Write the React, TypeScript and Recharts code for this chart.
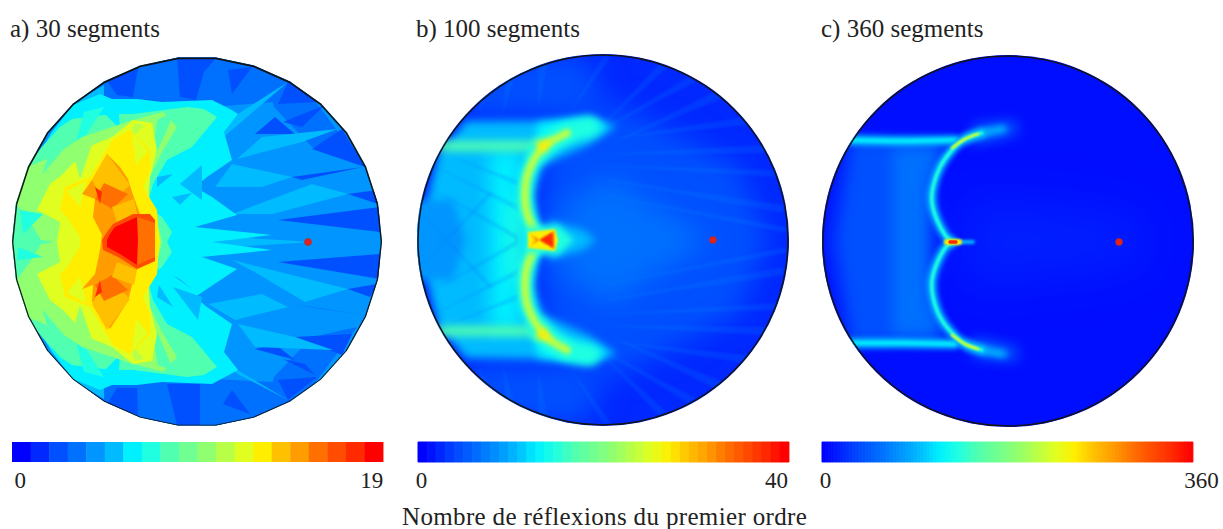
import { Bar, BarChart, Cell, Curve, ReferenceDot, Scatter, ScatterChart, XAxis, YAxis } from "recharts";

const jet = ["#0000ff", "#0028ff", "#0050ff", "#0070ff", "#0095ff", "#00bbff", "#00f0ff", "#20ffe0", "#50ffb0", "#70ff90",
  "#90ff70", "#b8ff48", "#e0ff20", "#ffee00", "#ffc000", "#ff9c00", "#ff7000", "#ff4c00", "#ff2a00", "#ff0000"];

const levelsA = Array.from({ length: 20 }, (_, i) => i);
const levelsB = Array.from({ length: 41 }, (_, i) => i);
const levelsC = Array.from({ length: 120 }, (_, i) => i);

const sourceA = [{ x: 296, y: 185 }];
const sourceB = [{ x: 295, y: 185 }];
const sourceC = [{ x: 296, y: 186 }];

// panel coordinates: 0..370 across the disc, y downwards
const outlineA = [[370, 185], [366, 147], [354, 110], [335, 76], [309, 47], [278, 25], [242, 9], [204, 1], [166, 1], [128, 9], [92, 25],
  [61, 47], [35, 76], [16, 110], [4, 147], [0, 185], [4, 223], [16, 260], [35, 294], [61, 323], [92, 345], [128, 361], [166, 369],
  [204, 369], [242, 361], [278, 345], [309, 323], [335, 294], [354, 260], [366, 223], [370, 185]];

const everywhere = [[-5, -5], [375, -5], [375, 375], [-5, 375]];

const regionsA: [number, number[][]][] = [
  [4, everywhere],
  [3, [[250, 5], [300, 40], [345, 100], [300, 90], [262, 50]]],
  [3, [[250, 365], [300, 330], [345, 270], [300, 280], [262, 320]]],
  [3, [[60, 50], [95, 22], [165, -2], [215, -2], [250, 8], [262, 45], [200, 50], [90, 42]]],
  [3, [[60, 320], [95, 348], [165, 372], [215, 372], [250, 362], [262, 325], [200, 322], [90, 328]]],
  [5, [[62, 46], [92, 28], [92, 42], [70, 55]]],
  [5, [[62, 324], [92, 342], [92, 328], [70, 315]]],
  [2, [[95, 24], [126, 11], [121, 40], [105, 38]]],
  [2, [[165, 0], [205, 0], [192, 15], [184, 43], [168, 40]]],
  [2, [[216, 13], [240, 10], [220, 37]]],
  [2, [[276, 25], [306, 45], [266, 47]]],
  [2, [[313, 48], [271, 65], [290, 70]]],
  [2, [[330, 72], [300, 92], [353, 110]]],
  [2, [[243, 77], [263, 60], [283, 77]]],
  [2, [[351, 110], [280, 120], [290, 123]]],
  [2, [[365, 133], [336, 137], [366, 147]]],
  [2, [[368, 150], [266, 163], [368, 175]]],
  [2, [[368, 197], [266, 205], [368, 222]]],
  [2, [[365, 227], [336, 232], [358, 240]]],
  [2, [[351, 258], [280, 247], [310, 252]]],
  [2, [[330, 298], [283, 280], [340, 277]]],
  [2, [[271, 302], [303, 318], [293, 307]]],
  [2, [[243, 292], [263, 287], [283, 303]]],
  [2, [[266, 323], [305, 320], [276, 343]]],
  [2, [[220, 333], [238, 357], [211, 347]]],
  [2, [[95, 347], [105, 331], [125, 331], [126, 358]]],
  [2, [[155, 327], [188, 327], [188, 368], [165, 368]]],
  [5, [[200, 90], [276, 25], [226, 57]]],
  [5, [[225, 102], [290, 85], [326, 72], [250, 80]]],
  [5, [[220, 157], [300, 127], [336, 137], [261, 157]]],
  [5, [[220, 107], [280, 120], [250, 130], [203, 130]]],
  [5, [[220, 203], [336, 232], [293, 245], [246, 217]]],
  [5, [[226, 267], [283, 280], [321, 293], [243, 290]]],
  [5, [[223, 263], [276, 250], [250, 237], [196, 247]]],
  [5, [[203, 300], [276, 343], [226, 317]]],
  [5, [[190, 178], [300, 185], [190, 192]]],
  [6, [[61, 48], [88, 37], [100, 42], [125, 42], [150, 45], [200, 43], [218, 52], [226, 57], [212, 75], [220, 103], [195, 120], [183, 130],
    [200, 140], [225, 158], [183, 170], [260, 178], [200, 185], [260, 193], [190, 200], [225, 212], [183, 240], [195, 250], [220, 267],
    [212, 295], [226, 313], [200, 327], [150, 325], [125, 328], [100, 328], [88, 333], [61, 322], [40, 295], [25, 270], [0, 240], [0, 130], [25, 100], [40, 75]]],
  [5, [[145, 120], [161, 117], [145, 130]]],
  [5, [[168, 127], [190, 108], [190, 143]]],
  [5, [[160, 140], [180, 136], [168, 148]]],
  [5, [[145, 240], [161, 250], [147, 228]]],
  [5, [[161, 230], [190, 240], [186, 263]]],
  [5, [[160, 218], [180, 232], [168, 222]]],
  [7, [[30, 90], [60, 62], [100, 57], [60, 90], [10, 140]]],
  [7, [[30, 280], [60, 308], [100, 313], [60, 280], [10, 230]]],
  [8, [[48, 70], [60, 62], [78, 60], [100, 57], [121, 57], [175, 50], [192, 52], [205, 60], [180, 90], [155, 103], [141, 127], [135, 150], [150, 160],
    [160, 175], [155, 185], [160, 195], [150, 210], [135, 220], [141, 243], [155, 267], [180, 280], [205, 310], [192, 318], [175, 320], [121, 313],
    [100, 313], [78, 310], [60, 308], [48, 300], [30, 280], [10, 255], [0, 215], [0, 155], [10, 115], [30, 90]]],
  [6, [[78, 42], [106, 42], [108, 72]]],
  [6, [[78, 328], [106, 328], [108, 298]]],
  [7, [[72, 55], [92, 50], [60, 100]]],
  [7, [[72, 315], [92, 320], [60, 270]]],
  [10, [[40, 100], [70, 80], [100, 70], [121, 63], [151, 55], [165, 70], [150, 95], [138, 120], [130, 150], [145, 165], [150, 185], [145, 205], [130, 220],
    [138, 250], [150, 275], [165, 300], [151, 315], [121, 307], [100, 300], [70, 290], [40, 270], [15, 260], [3, 225], [18, 205], [30, 185], [18, 165], [3, 145], [15, 110]]],
  [8, [[40, 88], [66, 75], [30, 118]]],
  [8, [[40, 282], [66, 295], [30, 252]]],
  [8, [[146, 62], [162, 56], [135, 118]]],
  [8, [[146, 308], [162, 314], [135, 252]]],
  [7, [[8, 153], [31, 157], [11, 177]]],
  [7, [[6, 190], [31, 200], [5, 203]]],
  [8, [[0, 178], [42, 185], [0, 192]]],
  [12, [[76, 90], [100, 80], [121, 63], [140, 66], [145, 93], [138, 120], [136, 150], [145, 160], [148, 185], [145, 210], [136, 220], [138, 250], [145, 277],
    [140, 304], [121, 307], [100, 290], [76, 280], [51, 253], [38, 243], [25, 217], [48, 205], [45, 185], [48, 165], [25, 153], [38, 127], [51, 117]]],
  [10, [[62, 100], [80, 88], [68, 122]]],
  [10, [[62, 270], [80, 282], [68, 248]]],
  [11, [[122, 66], [132, 68], [118, 84]]],
  [11, [[122, 304], [132, 302], [118, 286]]],
  [13, [[101, 82], [118, 73], [138, 93], [138, 113], [131, 130], [145, 153], [147, 185], [145, 217], [131, 240], [138, 257], [138, 277], [118, 297], [101, 288],
    [78, 250], [53, 240], [48, 217], [55, 210], [68, 190], [68, 180], [55, 160], [48, 153], [53, 130], [78, 120]]],
  [12, [[120, 76], [136, 94], [124, 108]]],
  [12, [[120, 294], [136, 276], [124, 262]]],
  [12, [[55, 134], [74, 124], [68, 150]]],
  [12, [[55, 236], [74, 246], [68, 220]]],
  [15, [[95, 97], [108, 110], [116, 122], [120, 135], [128, 157], [143, 163], [143, 204], [125, 212], [120, 228], [116, 244], [98, 272], [84, 245], [80, 245],
    [81, 228], [70, 232], [83, 217], [88, 193], [90, 178], [81, 160], [83, 142], [70, 137], [80, 123], [83, 118]]],
  [14, [[95, 97], [118, 128], [95, 150], [80, 123]]],
  [14, [[95, 273], [118, 242], [95, 220], [80, 247]]],
  [16, [[92, 126], [116, 137], [100, 152], [83, 142]]],
  [16, [[92, 244], [116, 233], [100, 218], [83, 228]]],
  [18, [[83, 130], [90, 135], [88, 147]]],
  [18, [[83, 240], [90, 235], [88, 223]]],
  [14, [[100, 150], [122, 142], [125, 157], [105, 165]]],
  [14, [[100, 220], [122, 228], [125, 213], [105, 205]]],
  [17, [[101, 167], [121, 157], [138, 157], [143, 163], [143, 204], [125, 212], [106, 200], [91, 193], [90, 183], [95, 175]]],
  [16, [[125, 160], [143, 166], [143, 200], [125, 208]]],
  [19, [[98, 177], [103, 170], [125, 160], [126, 183], [125, 208], [108, 197], [95, 190], [95, 183]]],
];

const broadB: [number, number[][]][] = [
  [2, [[130, 65], [200, 50], [320, 110], [350, 185], [320, 260], [200, 320], [130, 305], [120, 185]]],
  [3, [[135, 160], [190, 120], [270, 170], [290, 185], [270, 200], [190, 250], [135, 210], [155, 185]]],
  [2, [[50, 30], [90, 5], [165, 0], [190, 50], [160, 62], [50, 62]]],
  [2, [[50, 340], [90, 365], [165, 370], [190, 320], [160, 308], [50, 308]]],
];

const softB: [number, number[][]][] = [
  [5, [[48, 66], [170, 66], [200, 70], [170, 90], [125, 110], [115, 140], [120, 170], [150, 185], [120, 200], [115, 230], [125, 260], [170, 280], [200, 300],
    [170, 305], [48, 303], [20, 270], [0, 185], [20, 100]]],
  [4, [[-10, 145], [35, 145], [48, 185], [35, 225], [-10, 225]]],
  [6, [[120, 68], [170, 62], [192, 72], [150, 85], [125, 100], [115, 95]]],
  [6, [[120, 302], [170, 308], [192, 298], [150, 285], [125, 270], [115, 275]]],
  [5, [[130, 165], [165, 175], [178, 185], [165, 195], [130, 205]]],
];
const columnB: [number, number[][]][] = [
  [6, [[72, 95], [103, 95], [103, 275], [72, 275]]],
  [7, [[90, 150], [104, 140], [104, 230], [90, 220]]],
];

const raysB = [
  [[160, 120], [365, 150], [365, 158]], [[160, 135], [368, 172], [368, 178]], [[160, 235], [368, 192], [368, 198]], [[160, 250], [365, 212], [365, 220]],
  [[170, 100], [345, 90], [350, 98]], [[170, 270], [345, 280], [350, 272]], [[190, 90], [300, 35], [308, 42]], [[190, 280], [300, 335], [308, 328]],
  [[180, 75], [240, 10], [250, 12]], [[180, 295], [240, 360], [250, 358]], [[120, 55], [120, 8], [130, 8]], [[120, 315], [120, 362], [130, 362]],
  [[170, 110], [356, 115], [358, 122]], [[170, 260], [356, 255], [358, 248]], [[185, 85], [325, 62], [330, 70]], [[185, 285], [325, 308], [330, 300]],
  [[175, 80], [270, 22], [278, 27]], [[175, 290], [270, 348], [278, 343]], [[150, 60], [185, 2], [193, 2]], [[150, 310], [185, 368], [193, 368]],
  [[85, 60], [88, 24], [96, 22]], [[85, 310], [88, 346], [96, 348]], [[60, 62], [64, 44], [70, 40]], [[60, 308], [64, 326], [70, 330]],
];
// faint lattice on the left of the band
const latticeB = [
  [[8, 130], [100, 180], [100, 186]], [[8, 240], [100, 190], [100, 184]], [[14, 110], [100, 150], [100, 156]], [[14, 260], [100, 220], [100, 214]],
  [[30, 100], [100, 125], [100, 131]], [[30, 270], [100, 245], [100, 239]], [[5, 160], [70, 232], [76, 232]], [[5, 210], [70, 138], [76, 138]],
];

const upperBandB = [[22, 91], [60, 91], [118, 91]];
const lowerBandB = [[22, 276], [60, 276], [118, 276]];
const upperArcB = [[149, 78], [132, 87], [120, 98], [110, 118], [107, 138], [109, 158], [117, 178], [120, 185]];
const lowerArcB = [[120, 185], [117, 192], [109, 212], [107, 232], [110, 252], [120, 272], [132, 285], [149, 295]];
const upperTipB = [[172, 72], [149, 78], [132, 87], [120, 98]];
const lowerTipB = [[172, 300], [149, 295], [132, 285], [120, 272]];
const hotB: [number, number[][]][] = [
  [7, [[108, 172], [140, 170], [156, 185], [140, 200], [108, 198]]],
  [13, [[110, 177], [137, 174], [140, 185], [137, 196], [110, 193]]],
  [16, [[112, 179], [118, 185], [112, 191], [121, 185], [136, 176], [136, 194]]],
  [18, [[122, 185], [134, 178], [135, 192]]],
  [13, [[116, 87], [134, 84], [126, 99]]],
  [13, [[116, 283], [134, 286], [126, 271]]],
];

const broadC: [number, number[][]][] = [
  [1, [[140, 140], [320, 160], [320, 210], [140, 232]]],
];
const softC: [number, number[][]][] = [
  [1, [[20, 82], [125, 85], [108, 130], [125, 185], [108, 240], [125, 285], [20, 290], [0, 185]]],
  [2, [[30, 84], [122, 88], [104, 130], [104, 240], [122, 282], [30, 287], [14, 185]]],
  [3, [[70, 92], [115, 92], [104, 130], [104, 240], [115, 278], [70, 278]]],
  [3, [[150, 70], [192, 66], [196, 76], [150, 88]]],
  [3, [[150, 300], [192, 304], [196, 294], [150, 282]]],
];

const upperBandC = [[24, 84], [80, 85], [132, 84]];
const lowerBandC = [[24, 287], [80, 287], [132, 288]];
const upperArcC = [[159, 77], [142, 83], [129, 94], [117, 111], [110, 131], [109, 147], [114, 164], [122, 179], [129, 186]];
const lowerArcC = [[129, 186], [122, 192], [114, 207], [109, 224], [110, 241], [117, 261], [129, 277], [142, 288], [159, 294]];
const upperTipC = [[180, 73], [159, 77], [142, 83]];
const lowerTipC = [[180, 298], [159, 294], [142, 288]];
const upperCuspC = [[129, 92], [142, 83], [155, 78]];
const lowerCuspC = [[129, 279], [142, 288], [155, 293]];
const tailC = [[124, 186], [150, 186]];
const hotC = [[124, 186], [136, 186]];
const coreC = [[127, 186], [133, 186]];

const jetAt = (t: number) => {
  const p = t * (jet.length - 1);
  const i = Math.min(Math.floor(p), jet.length - 2);
  const f = p - i;
  const c = (h: string, o: number) => parseInt(h.slice(o, o + 2), 16);
  const mix = (o: number) => Math.round(c(jet[i], o) * (1 - f) + c(jet[i + 1], o) * f);
  return `rgb(${mix(1)},${mix(3)},${mix(5)})`;
};

const pts = (list: number[][]) => list.map(([x, y]) => ({ x, y }));
const noDot = () => <g />;
const redDot = (p: any) => <circle cx={p.cx} cy={p.cy} r={3.4} fill="#e8201c" stroke="#a8302c" strokeWidth={0.8} />;

const fillPoly = (level: number, blur: number, opacity = 1) => (p: any) => (
  <polygon
    points={p.points.map((q: any) => `${q.x},${q.y}`).join(" ")}
    fill={jet[level]}
    opacity={opacity}
    style={blur ? { filter: `blur(${blur}px)` } : undefined}
  />
);
const strokeLine = (color: string, width: number, blur: number) => (p: any) => (
  <g style={blur ? { filter: `blur(${blur}px)` } : undefined}>
    <Curve type="natural" points={p.points} fill="none" stroke={color} strokeWidth={width} strokeLinecap="round" />
  </g>
);
const straightLine = (color: string, width: number) => (p: any) => (
  <polyline points={p.points.map((q: any) => `${q.x},${q.y}`).join(" ")} fill="none" stroke={color} strokeWidth={width} />
);

const SIZE = 372;
const disc = `circle(186px at 186px 186px)`;
const polyClip = `polygon(${outlineA.map(([x, y]) => `${((x + 1) / SIZE) * 100}% ${((y + 1) / SIZE) * 100}%`).join(",")})`;

const axes = [
  <XAxis key="x" type="number" dataKey="x" domain={[-1, 371]} allowDataOverflow hide />,
  <YAxis key="y" type="number" dataKey="y" domain={[-1, 371]} reversed allowDataOverflow hide />,
];
const margin = { top: 0, right: 0, bottom: 0, left: 0 };

const fill = (key: string, list: number[][], draw: any) => (
  <Scatter key={key} data={pts(list)} shape={noDot} line={draw} isAnimationActive={false} />
);

function PanelA() {
  return (
    <div style={{ position: "absolute", left: 11, top: 55.5, width: SIZE, height: SIZE, clipPath: polyClip }}>
      <ScatterChart width={SIZE} height={SIZE} margin={margin}>
        {axes}
        {regionsA.map(([level, list], i) => fill(`r${i}`, list, fillPoly(level, 0.5)))}
        {fill("outline", outlineA, straightLine("#141414", 2.6))}
        <Scatter data={sourceA} shape={redDot} isAnimationActive={false} />
      </ScatterChart>
    </div>
  );
}

function PanelB() {
  return (
    <div style={{ position: "absolute", left: 417, top: 54, width: SIZE, height: SIZE, clipPath: disc }}>
      <ScatterChart width={SIZE} height={SIZE} margin={margin}>
        {axes}
        {fill("base", everywhere, fillPoly(1, 0))}
        {broadB.map(([level, list], i) => fill(`b${i}`, list, fillPoly(level, 14)))}
        {raysB.map((list, i) => fill(`ray${i}`, list, fillPoly(4, 1.2, 0.16)))}
        {softB.map(([level, list], i) => fill(`s${i}`, list, fillPoly(level, 4)))}
        {columnB.map(([level, list], i) => fill(`c${i}`, list, fillPoly(level, 9)))}
        {latticeB.map((list, i) => fill(`lat${i}`, list, fillPoly(3, 1, 0.18)))}
        {fill("ub", upperBandB, strokeLine(jet[8], 10, 4))}
        {fill("lb", lowerBandB, strokeLine(jet[8], 10, 4))}
        {fill("ut", upperTipB, strokeLine(jet[7], 20, 5))}
        {fill("lt", lowerTipB, strokeLine(jet[7], 20, 5))}
        {fill("ua0", upperArcB, strokeLine(jet[7], 16, 3))}
        {fill("la0", lowerArcB, strokeLine(jet[7], 16, 3))}
        {fill("ua1", upperArcB, strokeLine(jet[11], 8, 2))}
        {fill("la1", lowerArcB, strokeLine(jet[11], 8, 2))}
        {hotB.map(([level, list], i) => fill(`h${i}`, list, fillPoly(level, i === 0 ? 3 : i > 3 ? 3 : 1.2)))}
        <Scatter data={sourceB} shape={redDot} isAnimationActive={false} />
        <ReferenceDot x={185} y={185} r={185} fill="none" stroke="#141414" strokeWidth={1.5} />
      </ScatterChart>
    </div>
  );
}

function PanelC() {
  return (
    <div style={{ position: "absolute", left: 822, top: 55, width: SIZE, height: SIZE, clipPath: disc }}>
      <ScatterChart width={SIZE} height={SIZE} margin={margin}>
        {axes}
        {fill("base", everywhere, fillPoly(0, 0, 1))}
        {fill("wash", everywhere, fillPoly(1, 0, 0.35))}
        {broadC.map(([level, list], i) => fill(`b${i}`, list, fillPoly(level, 24, 0.7)))}
        {softC.map(([level, list], i) => fill(`s${i}`, list, fillPoly(level, 7)))}
        {fill("ub", upperBandC, strokeLine(jet[5], 10, 2.5))}
        {fill("lb", lowerBandC, strokeLine(jet[5], 10, 2.5))}
        {fill("ub2", upperBandC, strokeLine(jet[6], 3.5, 1.5))}
        {fill("lb2", lowerBandC, strokeLine(jet[6], 3.5, 1.5))}
        {fill("ut", upperTipC, strokeLine(jet[5], 7, 3))}
        {fill("lt", lowerTipC, strokeLine(jet[5], 7, 3))}
        {fill("ua0", upperArcC, strokeLine(jet[5], 9, 2.5))}
        {fill("la0", lowerArcC, strokeLine(jet[5], 9, 2.5))}
        {fill("ua1", upperArcC, strokeLine(jet[7], 3.4, 0.8))}
        {fill("la1", lowerArcC, strokeLine(jet[7], 3.4, 0.8))}
        {fill("uc", upperCuspC, strokeLine(jet[12], 2.6, 0.9))}
        {fill("lc", lowerCuspC, strokeLine(jet[12], 2.6, 0.9))}
        {fill("t", tailC, strokeLine(jet[5], 4, 1.5))}
        {fill("t1", hotC, strokeLine(jet[13], 6, 1))}
        {fill("t2", coreC, strokeLine(jet[18], 3.4, 0.6))}
        <Scatter data={sourceC} shape={redDot} isAnimationActive={false} />
        <ReferenceDot x={185} y={185} r={185} fill="none" stroke="#141414" strokeWidth={1.5} />
      </ScatterChart>
    </div>
  );
}

function ColorBar({ left, levels, labels, shift, stepped }: any) {
  const data = levels.map((level: number) => ({ level, v: 1 }));
  const last = levels.length - 1;
  const tick = (p: any) => (
    <text x={p.x + (p.index === 0 ? shift[0] : shift[1])} y={488} textAnchor="middle" fontFamily="'Liberation Serif'" fontSize={23} fill="#222">
      {p.index === 0 ? labels[0] : labels[1]}
    </text>
  );
  const color = (l: number) => (stepped ? jet[l] : jetAt(l / last));
  return (
    <div style={{ position: "absolute", left: left - 10, top: 0 }}>
      <BarChart width={423} height={500} data={data} barCategoryGap={0} margin={{ top: 442, right: 42, bottom: 0, left: 10 }}>
        <XAxis dataKey="level" ticks={[0, last]} interval={0} axisLine={false} tickLine={false} height={38} tick={tick} />
        <YAxis hide domain={[0, 1]} />
        <Bar dataKey="v" isAnimationActive={false}>
          {levels.map((l: number) => (
            <Cell key={l} fill={color(l)} stroke={color(l)} strokeWidth={stepped ? 0 : 1} />
          ))}
        </Bar>
      </BarChart>
    </div>
  );
}

const titleStyle: any = { position: "absolute", top: 15, fontFamily: "'Liberation Serif'", fontSize: 25, color: "#222", whiteSpace: "nowrap" };

export default function App() {
  return (
    <div style={{ position: "absolute", left: 0, top: 0, width: 1223, height: 529, background: "#fff", overflow: "hidden" }}>
      <div style={{ ...titleStyle, left: 10 }}>a) 30 segments</div>
      <div style={{ ...titleStyle, left: 416 }}>b) 100 segments</div>
      <div style={{ ...titleStyle, left: 821 }}>c) 360 segments</div>
      <PanelA />
      <PanelB />
      <PanelC />
      <ColorBar left={12} levels={levelsA} labels={["0", "19"]} shift={[-1, -2]} stepped />
      <ColorBar left={418} levels={levelsB} labels={["0", "40"]} shift={[-1, -8]} />
      <ColorBar left={822} levels={levelsC} labels={["0", "360"]} shift={[2, 10]} />
      <div style={{ ...titleStyle, top: 503, left: 402, letterSpacing: 0.35 }}>Nombre de réflexions du premier ordre</div>
    </div>
  );
}
